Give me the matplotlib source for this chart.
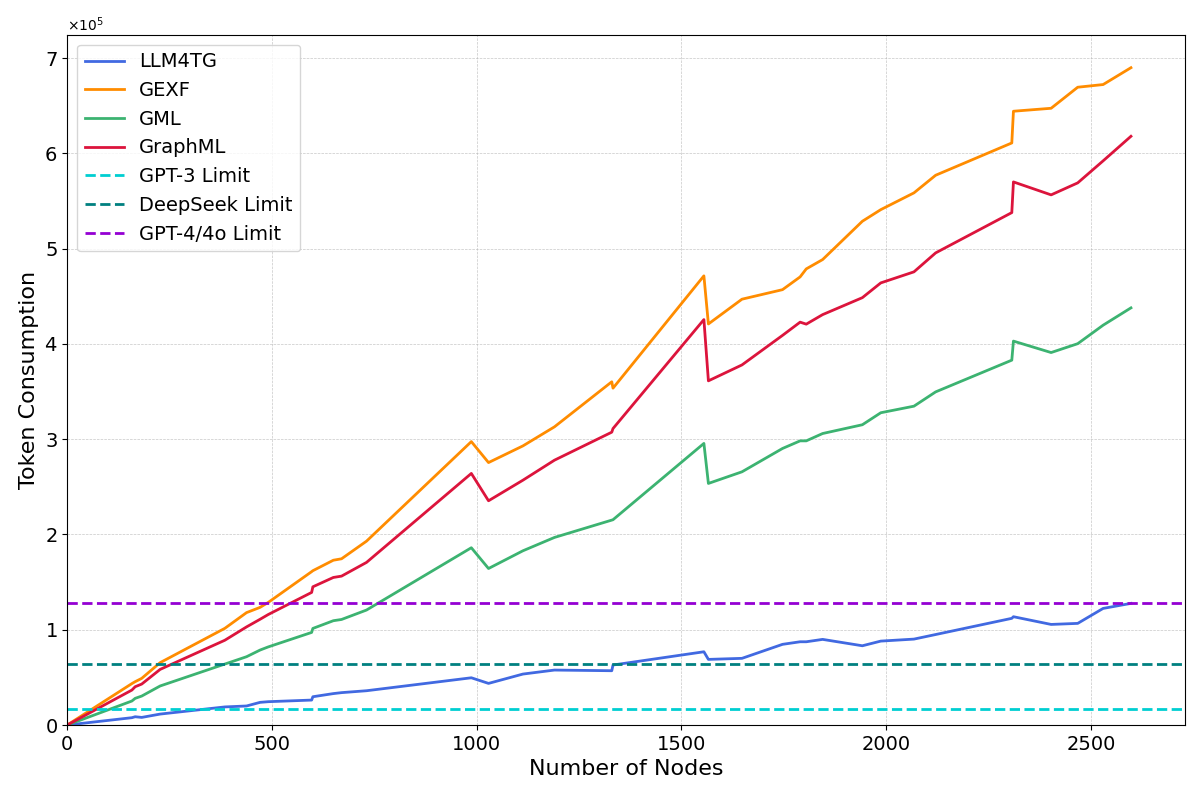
import matplotlib
matplotlib.use('Agg')
import matplotlib.pyplot as plt

# Numero de nos (eixo x)
nodes = [0, 158, 166, 182, 227, 385, 438, 471, 491, 597, 600, 650, 670, 731,
         987, 1029, 1113, 1190, 1330, 1333, 1555, 1566, 1648, 1747, 1790, 1805,
         1845, 1942, 1987, 2068, 2121, 2307, 2311, 2403, 2468, 2530, 2598]

# Consumo de tokens (em unidades de 1e5)
llm4tg = [0, 0.077, 0.087, 0.080, 0.115, 0.190, 0.200, 0.238, 0.245, 0.262, 0.297,
          0.330, 0.340, 0.360, 0.496, 0.437, 0.535, 0.577, 0.570, 0.630, 0.769, 0.689,
          0.700, 0.847, 0.874, 0.874, 0.899, 0.832, 0.881, 0.902, 0.950, 1.120, 1.137,
          1.056, 1.067, 1.224, 1.277]
gexf = [0, 0.435, 0.455, 0.490, 0.655, 1.015, 1.180, 1.235, 1.287, 1.610, 1.620,
        1.730, 1.745, 1.930, 2.975, 2.755, 2.930, 3.130, 3.603, 3.536, 4.715, 4.210,
        4.470, 4.570, 4.704, 4.788, 4.886, 5.288, 5.410, 5.586, 5.771, 6.110, 6.443,
        6.474, 6.695, 6.723, 6.900]
gml = [0, 0.252, 0.280, 0.304, 0.410, 0.640, 0.717, 0.787, 0.820, 0.972, 1.014,
       1.095, 1.108, 1.207, 1.861, 1.643, 1.829, 1.969, 2.151, 2.155, 2.956, 2.536,
       2.658, 2.903, 2.983, 2.983, 3.060, 3.152, 3.278, 3.347, 3.497, 3.830, 4.030,
       3.910, 4.003, 4.197, 4.379]
graphml = [0, 0.367, 0.402, 0.430, 0.584, 0.890, 1.030, 1.110, 1.160, 1.392, 1.451,
           1.549, 1.563, 1.707, 2.641, 2.354, 2.570, 2.780, 3.074, 3.112, 4.256, 3.613,
           3.780, 4.090, 4.229, 4.208, 4.308, 4.486, 4.641, 4.757, 4.956, 5.379, 5.701,
           5.565, 5.691, 5.922, 6.180]

# Limites de contexto dos modelos
gpt3_limit = 16385
deepseek_limit = 64000
gpt4_limit = 128000

escala = 1e5
fig = plt.figure(figsize=(12, 7.97), dpi=100)
ax = fig.add_axes([0.056, 0.0903, 0.9315, 0.866])

ax.plot(nodes, [v * escala for v in llm4tg], color='royalblue', linewidth=2, label='LLM4TG')
ax.plot(nodes, [v * escala for v in gexf], color='darkorange', linewidth=2, label='GEXF')
ax.plot(nodes, [v * escala for v in gml], color='mediumseagreen', linewidth=2, label='GML')
ax.plot(nodes, [v * escala for v in graphml], color='crimson', linewidth=2, label='GraphML')

ax.axhline(gpt3_limit, color='darkturquoise', linestyle='--', linewidth=2, label='GPT-3 Limit')
ax.axhline(deepseek_limit, color='teal', linestyle='--', linewidth=2, label='DeepSeek Limit')
ax.axhline(gpt4_limit, color='darkviolet', linestyle='--', linewidth=2, label='GPT-4/4o Limit')

ax.set_xlim(0, 2730)
ax.set_ylim(0, 7.245e5)
ax.ticklabel_format(axis='y', style='sci', scilimits=(0, 0), useMathText=True)
ax.tick_params(labelsize=14)
ax.yaxis.get_offset_text().set_fontsize(10)

ax.set_xlabel('Number of Nodes', fontsize=16)
ax.set_ylabel('Token Consumption', fontsize=16)
ax.grid(True, linestyle='--', linewidth=0.5, alpha=0.7)
ax.legend(loc='upper left', fontsize=14)

plt.savefig('out.png', dpi=100)
